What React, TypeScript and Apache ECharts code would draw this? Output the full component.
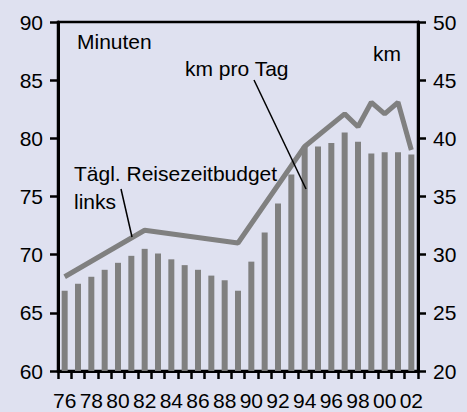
import React, { useEffect, useRef } from "react";
import * as echarts from "echarts";

const years = ["76","77","78","79","80","81","82","83","84","85","86","87","88","89","90","91","92","93","94","95","96","97","98","99","00","01","02"];
const kmPerDay = [26.9, 27.5, 28.1, 28.7, 29.3, 29.9, 30.5, 30.1, 29.6, 29.1, 28.7, 28.2, 27.8, 26.9, 29.4, 31.9, 34.4, 36.9, 39.3, 39.3, 39.6, 40.5, 39.7, 38.7, 38.8, 38.8, 38.6];
const travelMinutes: (number | null)[] = [68.1, null, null, null, null, null, 72.1, null, null, null, null, null, null, 71.0, null, null, null, null, 79.3, null, null, 82.1, 81.0, 83.1, 82.1, 83.1, 79.0];
const leftTicks = { min: 60, max: 90, step: 5 };
const rightTicks = { min: 20, max: 50, step: 5 };

const FONT = "'Liberation Sans', Arial, Helvetica, sans-serif";
const NARROW = "'Liberation Sans Narrow', 'Arial Narrow', 'Liberation Sans', Arial, sans-serif";
const GRAY = "#808080";

export default function App() {
  const ref = useRef<HTMLDivElement>(null);
  useEffect(() => {
    if (!ref.current) return;
    const chart = echarts.init(ref.current, undefined, { renderer: "svg" });
    chart.setOption({
      animation: false,
      backgroundColor: "#dfe1f0",
      textStyle: { fontFamily: FONT },
      grid: { left: 58, right: 49, top: 22, bottom: 41, show: true, borderColor: "#000", borderWidth: 2.5, backgroundColor: "transparent" },
      xAxis: {
        type: "category",
        data: years,
        boundaryGap: true,
        axisLine: { lineStyle: { color: "#000", width: 3 } },
        axisTick: { show: true, interval: 0, length: 8, lineStyle: { color: "#000", width: 2.5 } },
        axisLabel: { interval: 1, color: "#000", fontSize: 21, fontFamily: NARROW, margin: 19 },
        splitLine: { show: false },
      },
      yAxis: [
        {
          type: "value",
          min: leftTicks.min, max: leftTicks.max, interval: leftTicks.step,
          axisLine: { show: true, lineStyle: { color: "#000", width: 3 } },
          axisTick: { show: true, length: 8, lineStyle: { color: "#000", width: 2.5 } },
          axisLabel: { color: "#000", fontSize: 21, fontFamily: FONT, margin: 15 },
          splitLine: { show: false },
        },
        {
          type: "value",
          position: "right",
          min: rightTicks.min, max: rightTicks.max, interval: rightTicks.step,
          axisLine: { show: true, lineStyle: { color: "#000", width: 3 } },
          axisTick: { show: true, length: 8, lineStyle: { color: "#000", width: 2.5 } },
          axisLabel: { color: "#000", fontSize: 21, fontFamily: FONT, margin: 15 },
          splitLine: { show: false },
        },
      ],
      series: [
        {
          type: "bar",
          yAxisIndex: 1,
          data: kmPerDay,
          barWidth: 6,
          itemStyle: { color: GRAY },
          z: 2,
        },
        {
          type: "line",
          yAxisIndex: 0,
          data: travelMinutes,
          connectNulls: true,
          showSymbol: false,
          symbol: "none",
          lineStyle: { color: GRAY, width: 5 },
          z: 3,
        },
      ],
      graphic: [
        { type: "text", left: 77, top: 31, style: { text: "Minuten", fontSize: 21, fontFamily: FONT, fill: "#000" } },
        { type: "text", left: 185, top: 58, style: { text: "km pro Tag", fontSize: 21, fontFamily: FONT, fill: "#000" } },
        { type: "text", left: 373, top: 43, style: { text: "km", fontSize: 21, fontFamily: FONT, fill: "#000" } },
        { type: "text", left: 74, top: 163, style: { text: "Tägl. Reisezeitbudget", fontSize: 21, fontFamily: FONT, fill: "#000" } },
        { type: "text", left: 74, top: 191, style: { text: "links", fontSize: 21, fontFamily: FONT, fill: "#000" } },
        { type: "line", shape: { x1: 254, y1: 80, x2: 306, y2: 189 }, style: { stroke: "#000", lineWidth: 1.5 }, z: 10 },
        { type: "line", shape: { x1: 121, y1: 189, x2: 132, y2: 237 }, style: { stroke: "#000", lineWidth: 1.5 }, z: 10 },
      ],
    });
    return () => chart.dispose();
  }, []);
  return <div ref={ref} style={{ position: "fixed", left: 0, top: 0, width: 467, height: 412 }} />;
}
